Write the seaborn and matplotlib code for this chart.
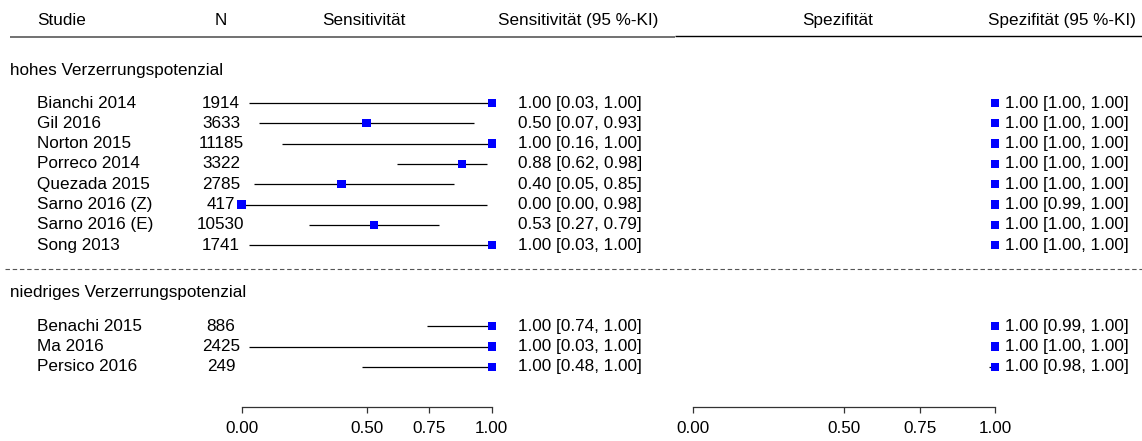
import numpy as np
import pandas as pd
import matplotlib
matplotlib.use("Agg")
import matplotlib.pyplot as plt
import seaborn as sns

sns.set_style("white")
plt.rcParams['font.family'] = ['Liberation Sans', 'DejaVu Sans']
plt.rcParams['text.color'] = 'black'
plt.rcParams['xtick.color'] = 'black'
plt.rcParams['xtick.labelcolor'] = 'black'

# ---- data ----
studies_high = ["Bianchi 2014", "Gil 2016", "Norton 2015", "Porreco 2014",
                "Quezada 2015", "Sarno 2016 (Z)", "Sarno 2016 (E)", "Song 2013"]
n_high = [1914, 3633, 11185, 3322, 2785, 417, 10530, 1741]
sens_high = [1.00, 0.50, 1.00, 0.88, 0.40, 0.00, 0.53, 1.00]
sens_lo_high = [0.03, 0.07, 0.16, 0.62, 0.05, 0.00, 0.27, 0.03]
sens_hi_high = [1.00, 0.93, 1.00, 0.98, 0.85, 0.98, 0.79, 1.00]
spec_high = [1.00, 1.00, 1.00, 1.00, 1.00, 1.00, 1.00, 1.00]
spec_lo_high = [1.00, 1.00, 1.00, 1.00, 1.00, 0.99, 1.00, 1.00]
spec_hi_high = [1.00, 1.00, 1.00, 1.00, 1.00, 1.00, 1.00, 1.00]

studies_low = ["Benachi 2015", "Ma 2016", "Persico 2016"]
n_low = [886, 2425, 249]
sens_low = [1.00, 1.00, 1.00]
sens_lo_low = [0.74, 0.03, 0.48]
sens_hi_low = [1.00, 1.00, 1.00]
spec_low = [1.00, 1.00, 1.00]
spec_lo_low = [0.99, 1.00, 0.98]
spec_hi_low = [1.00, 1.00, 1.00]

groups = ["hohes Verzerrungspotenzial", "niedriges Verzerrungspotenzial"]
axis_ticks = [0.0, 0.5, 0.75, 1.0]

# ---- layout (rows, pixel positions) ----
W, H = 1142, 441
row0_px, row_px = 103, 20.3
rows_high = list(range(len(studies_high)))
rows_low = [11 + i for i in range(len(studies_low))]

df = pd.DataFrame({
    "study": studies_high + studies_low,
    "n": n_high + n_low,
    "sens": sens_high + sens_low,
    "sens_lo": sens_lo_high + sens_lo_low,
    "sens_hi": sens_hi_high + sens_hi_low,
    "spec": spec_high + spec_low,
    "spec_lo": spec_lo_high + spec_lo_low,
    "spec_hi": spec_hi_high + spec_hi_low,
    "row": rows_high + rows_low,
})

def px2row(p):
    return (p - row0_px) / row_px

fs = 12.3
fig = plt.figure(figsize=(W / 100, H / 100), dpi=100)
base = fig.add_axes([0, 0, 1, 1])
base.set_xlim(0, W)
base.set_ylim(px2row(H), px2row(0))
base.axis("off")

axis_px = 407.3


def panel(x0, x1):
    ax = fig.add_axes([x0 / W, (H - axis_px) / H, (x1 - x0) / W, axis_px / H])
    ax.set_xlim(0, 1)
    ax.set_ylim(px2row(axis_px), px2row(0))
    ax.patch.set_alpha(0)
    for s in ["top", "right", "left"]:
        ax.spines[s].set_visible(False)
    ax.spines["bottom"].set_color("#333333")
    ax.spines["bottom"].set_linewidth(0.9)
    ax.set_xticks(axis_ticks)
    ax.set_xticklabels([f"{t:.2f}" for t in axis_ticks], fontsize=fs)
    ax.tick_params(axis="x", direction="out", length=4, width=0.9,
                   color="#333333", labelcolor="black", pad=6, bottom=True)
    ax.set_yticks([])
    return ax


ax_sens = panel(241.5, 491.7)
ax_spec = panel(693, 995)

for ax, col in [(ax_sens, "sens"), (ax_spec, "spec")]:
    ax.hlines(df["row"], df[col + "_lo"], df[col + "_hi"], color="black",
              lw=0.9, clip_on=False)
    sns.scatterplot(data=df, x=col, y="row", ax=ax, marker="s", s=36,
                    color="#0000FF", edgecolor="none", clip_on=False, zorder=3)
    ax.set_xlabel("")
    ax.set_ylabel("")

# ---- header ----
hy = px2row(20)
base.text(37, hy, "Studie", ha="left", va="center", fontsize=fs)
base.text(221, hy, "N", ha="center", va="center", fontsize=fs)
base.text(364, hy, "Sensitivität", ha="center", va="center", fontsize=fs)
base.text(578, hy, "Sensitivität (95 %-KI)", ha="center", va="center", fontsize=fs)
base.text(838, hy, "Spezifität", ha="center", va="center", fontsize=fs)
base.text(1062, hy, "Spezifität (95 %-KI)", ha="center", va="center", fontsize=fs)
base.hlines(px2row(36.5), 10, 675, color="#666666", lw=1.3)
base.hlines(px2row(36), 675, W, color="black", lw=1.0)

# ---- group labels and separator ----
base.text(10, px2row(70), groups[0], ha="left", va="center", fontsize=fs)
base.text(10, px2row(293), groups[1], ha="left", va="center", fontsize=fs)
base.hlines(px2row(269), 5, W, color="#555555", lw=0.8,
            linestyles=(0, (4, 2.5)))

# ---- study rows ----
for _, r in df.iterrows():
    y = r["row"]
    base.text(37, y, r["study"], ha="left", va="center", fontsize=fs)
    base.text(221, y, str(r["n"]), ha="center", va="center", fontsize=fs)
    base.text(518, y, f"{r['sens']:.2f} [{r['sens_lo']:.2f}, {r['sens_hi']:.2f}]",
              ha="left", va="center", fontsize=fs)
    base.text(1005, y, f"{r['spec']:.2f} [{r['spec_lo']:.2f}, {r['spec_hi']:.2f}]",
              ha="left", va="center", fontsize=fs)

fig.savefig("out.png", dpi=100)
